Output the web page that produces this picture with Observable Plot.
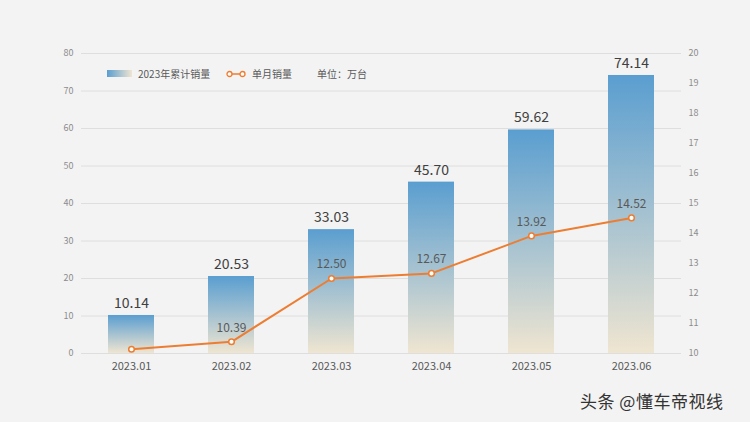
<!DOCTYPE html>
<html><head><meta charset="utf-8">
<script src="https://cdn.jsdelivr.net/npm/d3@7"></script>
<script src="https://cdn.jsdelivr.net/npm/@observablehq/plot@0.6"></script>
<style>
html,body{margin:0;padding:0;background:#f3f3f3;}
#wrap{position:relative;width:750px;height:422px;font-family:"Noto Sans CJK SC","Noto Sans",sans-serif;}
.leg{position:absolute;top:66px;font-size:10px;color:#595959;display:flex;align-items:center;white-space:nowrap;}
#wm{position:absolute;left:580px;top:388px;font-size:17px;color:#333;letter-spacing:0.5px;}
</style></head>
<body><div id="wrap"></div>
<script>
const months = ["2023.01","2023.02","2023.03","2023.04","2023.05","2023.06"];
const cumulative = [10.14, 20.53, 33.03, 45.70, 59.62, 74.14];
const monthly = [10.14, 10.39, 12.50, 12.67, 13.92, 14.52];
const leftTicks = [0,10,20,30,40,50,60,70,80];
const rightTicks = [10,11,12,13,14,15,16,17,18,19,20];
const legendLabels = ["2023年累计销量","单月销量","单位：万台"];
const watermark = "头条 @懂车帝视线";

// map right-axis value (10..20) onto left scale (0..80)
const toLeft = v => (v - 10) * 8;
const data = months.map((m,i)=>({m, i, cum:cumulative[i], mon:monthly[i], monL:toLeft(monthly[i])}));

const defs = () => {
  const d = d3.create("svg:defs");
  const g = d.append("linearGradient").attr("id","barGrad").attr("x1",0).attr("y1",0).attr("x2",0).attr("y2",1);
  g.append("stop").attr("offset","0%").attr("stop-color","#5a9ed0");
  g.append("stop").attr("offset","100%").attr("stop-color","#efe5d1");
  return d.node();
};

const chart = Plot.plot({
  width: 750, height: 422,
  marginTop: 53, marginBottom: 69, marginLeft: 81, marginRight: 69,
  style: {background:"transparent", fontFamily:"'Noto Sans CJK SC','Noto Sans',sans-serif"},
  x: {domain: months, paddingInner: 0.54, paddingOuter: 0.27, label: null},
  y: {domain: [0,80], label: null},
  marks: [
    defs,
    Plot.gridY(leftTicks, {stroke:"#dedede", strokeOpacity:1, strokeWidth:1}),
    Plot.axisY(leftTicks, {anchor:"left", tickSize:0, tickPadding:8, fontSize:9, color:"#8c8c8c", label:null}),
    Plot.axisY(rightTicks.map(toLeft), {anchor:"right", tickSize:0, tickPadding:7, fontSize:9, color:"#8c8c8c", label:null, tickFormat: d => String(d/8+10)}),
    Plot.axisX({tickSize:0, tickPadding:9, fontSize:11, color:"#595959", label:null}),
    Plot.barY(data, {x:"m", y:"cum", fill:"url(#barGrad)"}),
    Plot.text(data, {x:"m", y:"cum", text:d=>d.cum.toFixed(2), dy:-12, fontSize:14, fill:"#404040"}),
    Plot.line(data, {x:"m", y:"monL", stroke:"#ed7d31", strokeWidth:2}),
    Plot.dot(data, {x:"m", y:"monL", r:2.8, fill:"#ffffff", stroke:"#ed7d31", strokeWidth:1.5}),
    Plot.text(data.filter(d=>d.i>0), {x:"m", y:"monL", text:d=>d.mon.toFixed(2), dy:-14, fontSize:12, fill:"#595959"})
  ]
});
const wrap = document.getElementById("wrap");
wrap.appendChild(chart);

function addLeg(left, swatchHTML, text){
  const el = document.createElement("div");
  el.className = "leg"; el.style.left = left+"px";
  el.innerHTML = swatchHTML + `<span>${text}</span>`;
  wrap.appendChild(el);
}
addLeg(107, '<span style="display:inline-block;width:25px;height:7px;margin-right:6px;background:linear-gradient(to right,#5a9ed0,#efe5d1)"></span>', legendLabels[0]);
addLeg(226, '<svg width="20" height="8" style="margin-right:6px"><line x1="3" y1="4" x2="17" y2="4" stroke="#ed7d31" stroke-width="1.5"/><circle cx="3.5" cy="4" r="2.5" fill="#fff" stroke="#ed7d31" stroke-width="1.3"/><circle cx="16.5" cy="4" r="2.5" fill="#fff" stroke="#ed7d31" stroke-width="1.3"/></svg>', legendLabels[1]);
addLeg(317, '', legendLabels[2]);
const wm = document.createElement("div"); wm.id="wm"; wm.textContent = watermark; wrap.appendChild(wm);
</script></body></html>
